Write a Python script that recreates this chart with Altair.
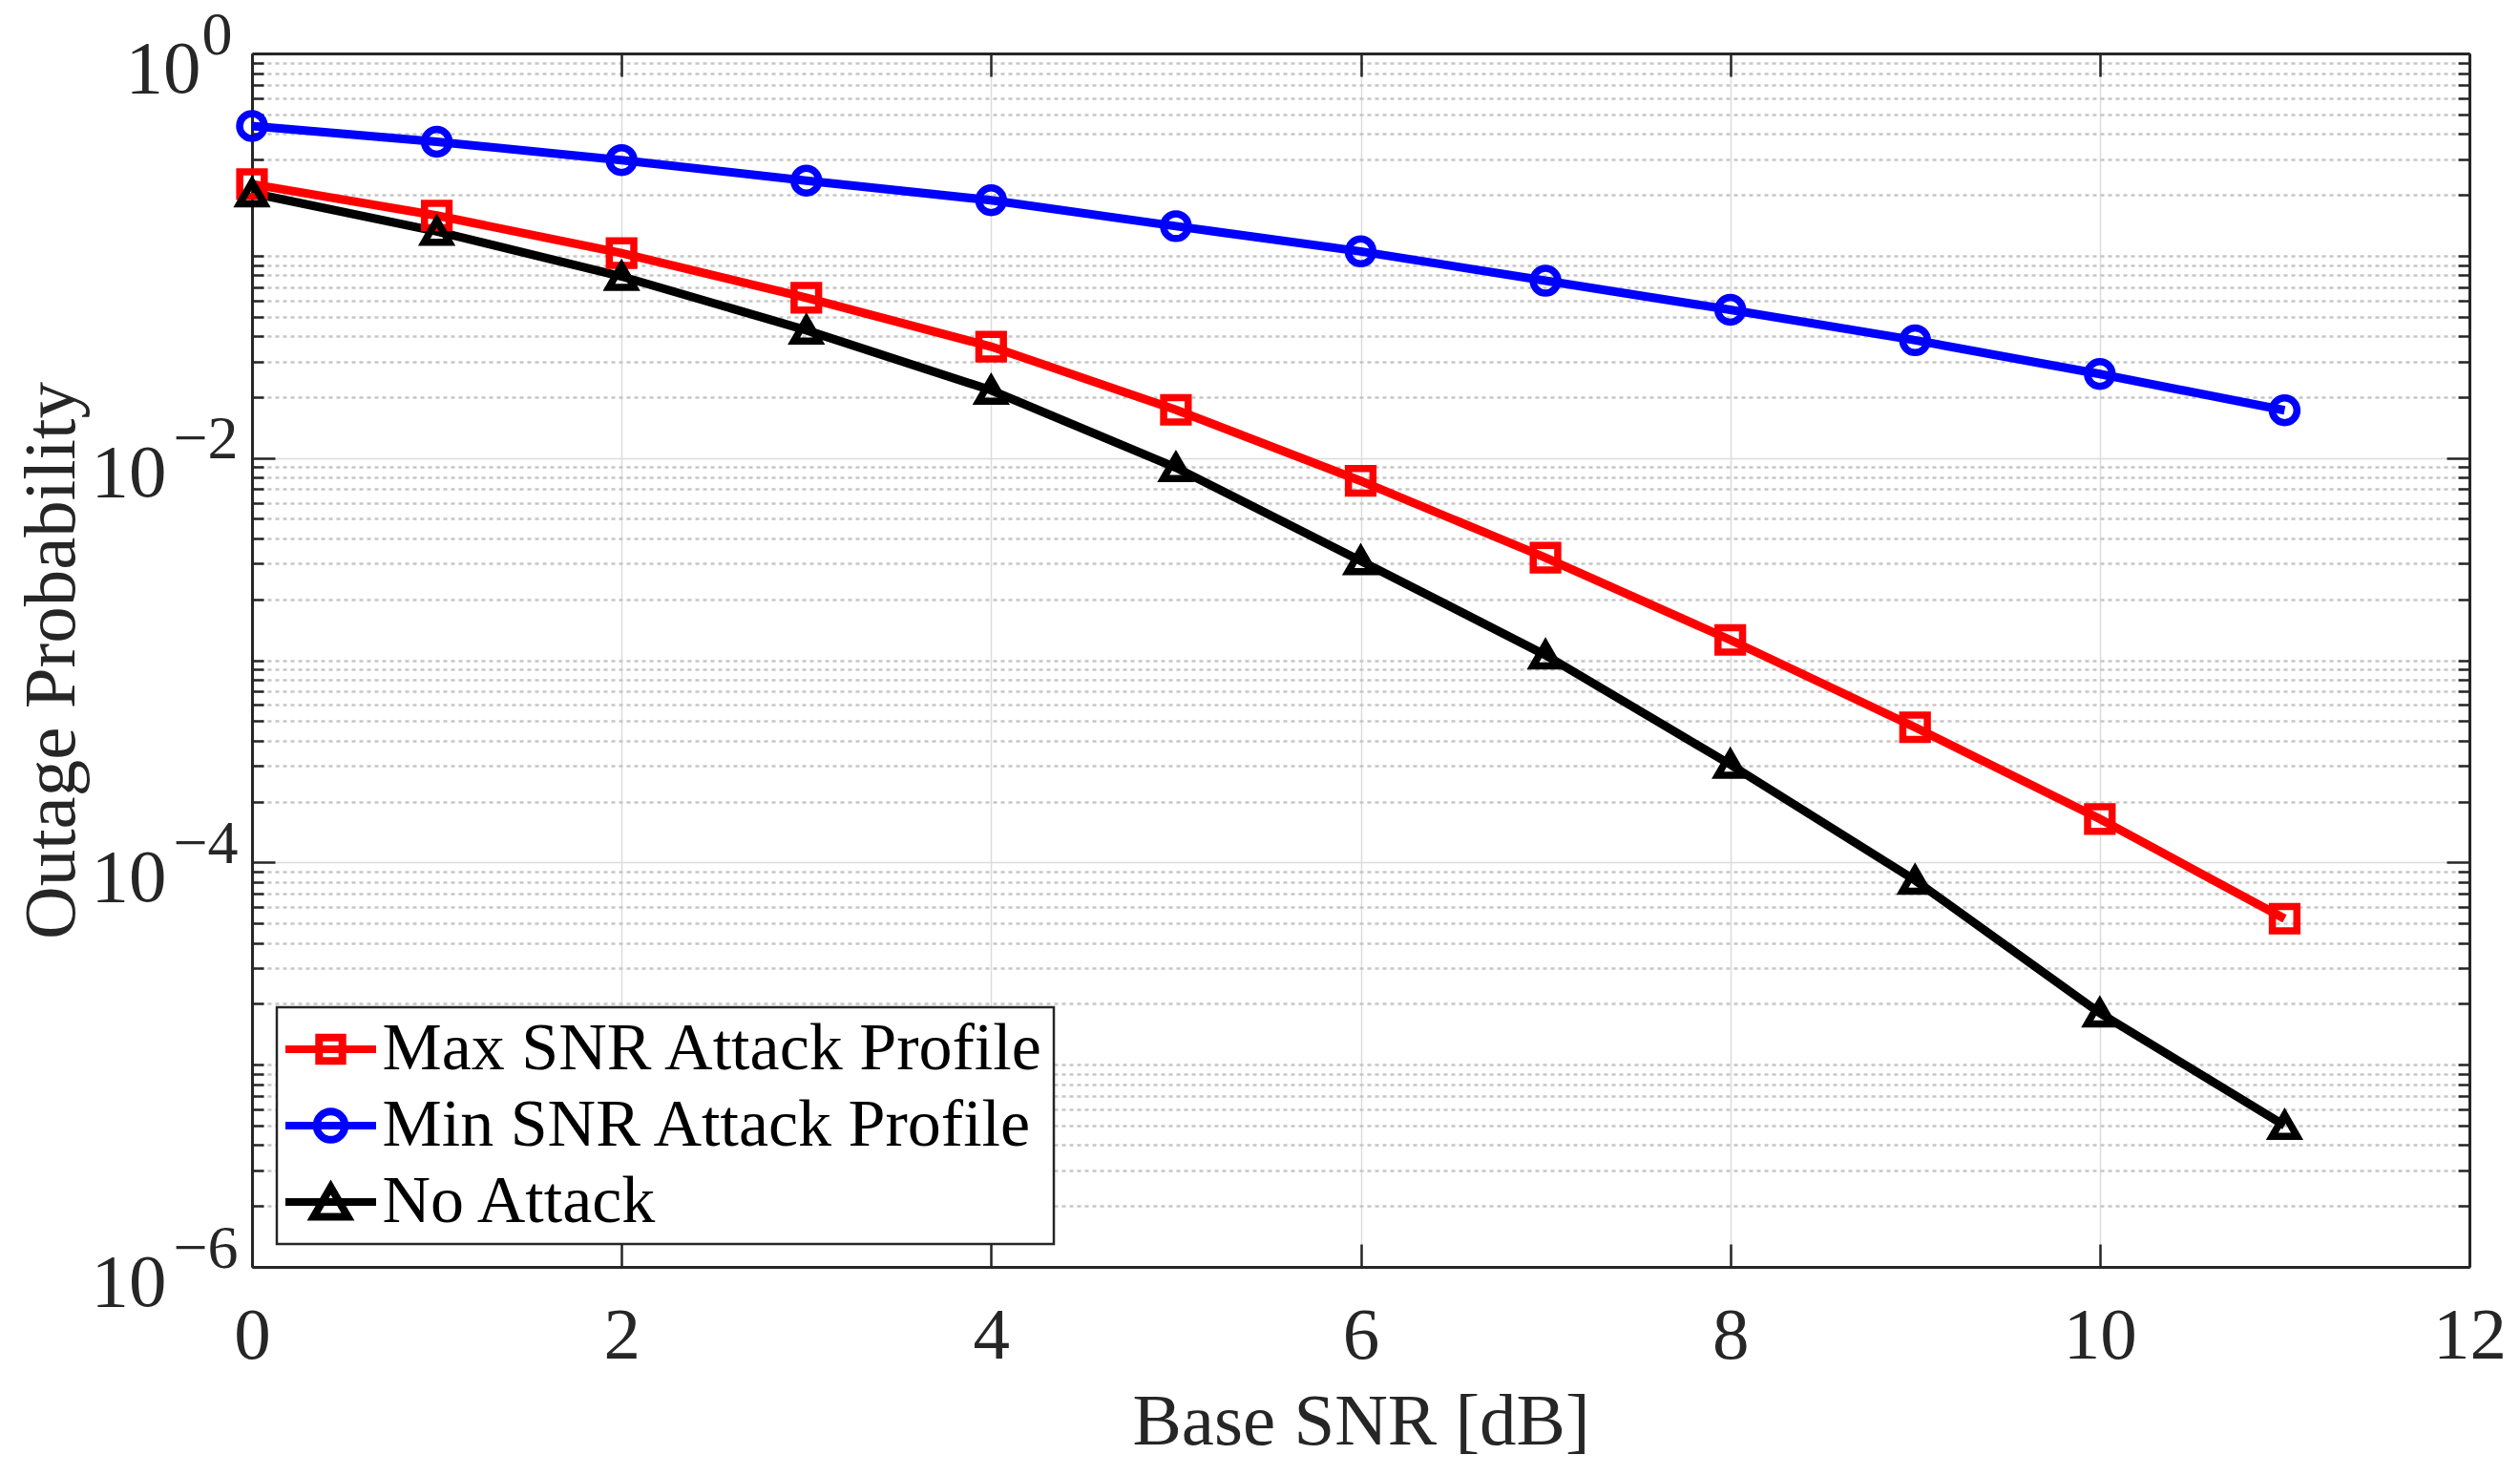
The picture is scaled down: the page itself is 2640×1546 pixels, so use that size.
import altair as alt
import pandas as pd

# ---------------- data ----------------
snr_db = [0, 1, 2, 3, 4, 5, 6, 7, 8, 9, 10, 11]
max_snr_attack = [0.226, 0.158, 0.103, 0.062, 0.0355, 0.0173, 0.0077, 0.00321,
                  0.00126, 0.000466, 0.000164, 5.27e-5]
min_snr_attack = [0.438, 0.366, 0.297, 0.235, 0.188, 0.140, 0.105, 0.0752,
                  0.054, 0.0382, 0.026, 0.0172]
no_attack = [0.204, 0.132, 0.079, 0.0428, 0.0216, 0.00896, 0.0031, 0.00106,
             0.000305, 8.16e-5, 1.80e-5, 5.0e-6]

series_names = ["Max SNR Attack Profile", "Min SNR Attack Profile", "No Attack"]
series_colors = ["#ff0000", "#0000ff", "#000000"]

x_ticks = [0, 2, 4, 6, 8, 10, 12]
decade_ticks = [1, 1e-2, 1e-4, 1e-6]
decade_base = "10"
decade_exponents = ["0", "\u22122", "\u22124", "\u22126"]
minor_multipliers = [1, 2, 3, 4, 5, 6, 7, 8, 9]
minor_exponents = [-1, -2, -3, -4, -5, -6]

# ---------------- table ----------------
rows = []
for name, vals in zip(series_names, [max_snr_attack, min_snr_attack, no_attack]):
    for s, v in zip(snr_db, vals):
        rows.append({"snr": s, "p": v, "series": name})
df = pd.DataFrame(rows)

y_all_ticks = sorted(set(decade_ticks) | {k * 10.0 ** e for e in minor_exponents for k in minor_multipliers})

major_list = "[" + ",".join(repr(float(v)) for v in decade_ticks) + "]"
major_test = f"indexof({major_list}, datum.value) >= 0"
y_bound_test = "datum.value >= 1 || datum.value <= 0.000001"
x_bound_test = f"datum.value <= {x_ticks[0]} || datum.value >= {x_ticks[-1]}"

base_label_expr = f"{major_test} ? '{decade_base}' : ''"
exp_label_expr = " : ".join(
    f"datum.value == {repr(float(v))} ? '{e}'" for v, e in zip(decade_ticks, decade_exponents)
) + " : ''"

FONT = "Liberation Serif"
AX = "#262626"
W, H = 2323, 1271

xscale = alt.Scale(domain=[0, 12], nice=False, zero=False)
yscale = alt.Scale(type="log", domain=[1e-6, 1], nice=False)
color_scale = alt.Scale(domain=series_names, range=series_colors)

x_bottom_axis = alt.Axis(
    orient="bottom", values=x_ticks, format="d",
    labelFontSize=77, labelBaseline="alphabetic", labelPadding=119,
    labelFlush=False, labelOverlap=False,
    tickSize={"expr": "-24"}, tickWidth=2.5, tickColor=AX,
    domain=True, domainColor=AX, domainWidth=3,
    grid=True, gridColor="#dcdcdc", gridWidth=1.5,
    gridOpacity={"condition": {"test": x_bound_test, "value": 0}, "value": 1},
    title="Base SNR [dB]", titleFontSize=77, titleX=W / 2, titleY=185,
    titleBaseline="alphabetic", titleAlign="center",
)

y_left_axis = alt.Axis(
    orient="left", values=y_all_ticks, labelExpr=base_label_expr,
    labelFontSize=79, labelAlign="right", labelBaseline="middle", labelOffset=16,
    labelPadding={"condition": {"test": "datum.value >= 1", "value": 78}, "value": 114},
    labelFlush=False, labelOverlap=False, labelBound=False,
    tickSize={"condition": {"test": major_test, "value": -24}, "value": -12},
    tickWidth=2.5, tickColor=AX,
    domain=True, domainColor=AX, domainWidth=3,
    grid=True,
    gridColor={"condition": {"test": major_test, "value": "#dcdcdc"}, "value": "#c6c6c6"},
    gridDash={"condition": {"test": major_test, "value": []}, "value": [4, 4]},
    gridWidth={"condition": {"test": major_test, "value": 1.5}, "value": 2.5},
    gridOpacity={"condition": {"test": y_bound_test, "value": 0}, "value": 1},
    title="Outage Probability", titleFontSize=77, titleAngle=270,
    titleX=-210, titleY=H / 2, titleAlign="center", titleBaseline="middle",
)

y_exp_axis = alt.Axis(
    orient="left", values=decade_ticks, labelExpr=exp_label_expr,
    labelFontSize=64, labelAlign="left", labelBaseline="middle", labelOffset=-19,
    labelPadding={"condition": {"test": "datum.value >= 1", "value": 53}, "value": 83},
    labelFlush=False, labelOverlap=False, labelBound=False,
    ticks=False, tickSize=0, domain=False, grid=False, title=None,
)

x_top_axis = alt.Axis(
    orient="top", values=x_ticks, labels=False,
    tickSize={"expr": "-24"}, tickWidth=2.5, tickColor=AX,
    domain=True, domainColor=AX, domainWidth=3, grid=False, title=None,
)

y_right_axis = alt.Axis(
    orient="right", values=y_all_ticks, labels=False,
    tickSize={"condition": {"test": major_test, "value": -24}, "value": -12},
    tickWidth=2.5, tickColor=AX,
    domain=True, domainColor=AX, domainWidth=3, grid=False, title=None,
)

# legend symbols: line segment + marker (one unit = 20 px, symbolSize 40^2)
legend_paths = [
    "M-2.375,0H2.375M-0.61,-0.61H0.61V0.61H-0.61Z",
    "M-2.375,0H2.375M-0.74,0A0.74,0.74 0 1,0 0.74,0A0.74,0.74 0 1,0 -0.74,0Z",
    "M-2.375,0H2.375M0,-0.78L0.9,0.78L-0.9,0.78Z",
]

legend_def = alt.Legend(
    title=None, orient="none", legendX=26, legendY=999,
    symbolSize=1600, symbolStrokeWidth=8, symbolOpacity=1,
    symbolFillColor="transparent", symbolOffset=12.5,
    labelOffset=19, labelFontSize=70, labelFont=FONT, labelColor="#000000",
    labelLimit=2000, padding=9, rowPadding=10,
    strokeColor=AX, fillColor="#ffffff",
)

base = alt.Chart(df)

lines = base.mark_line(strokeWidth=9).encode(
    x=alt.X("snr:Q", scale=xscale, axis=x_bottom_axis),
    y=alt.Y("p:Q", scale=yscale, axis=y_left_axis),
    color=alt.Color("series:N", scale=color_scale, legend=None),
)

points = base.mark_point(filled=False, strokeWidth=7.5, opacity=1).encode(
    x=alt.X("snr:Q", scale=xscale, axis=x_top_axis),
    y=alt.Y("p:Q", scale=yscale, axis=y_right_axis),
    color=alt.Color("series:N", scale=color_scale, legend=None),
    shape=alt.Shape("series:N", scale=alt.Scale(domain=series_names,
                                                range=["square", "circle", "triangle-up"]), legend=None),
    size=alt.Size("series:O", scale=alt.Scale(domain=series_names, range=[660, 690, 1300]), legend=None),
)

legend_layer = base.mark_point(filled=False, opacity=0).encode(
    x=alt.X("snr:Q", scale=xscale, axis=None),
    y=alt.Y("p:Q", scale=yscale, axis=y_exp_axis),
    color=alt.Color("series:N", scale=color_scale, legend=legend_def),
    shape=alt.Shape("series:N", scale=alt.Scale(domain=series_names, range=legend_paths), legend=legend_def),
)

chart = alt.layer(lines, points, legend_layer).resolve_scale(
    color="independent", shape="independent"
).resolve_axis(
    x="independent", y="independent"
).properties(
    width=W, height=H,
    autosize=alt.AutoSizeParams(type="none"),
    padding={"left": 256, "top": 48, "right": 45, "bottom": 211},
    background="#ffffff",
).configure_axis(
    labelFont=FONT, titleFont=FONT, labelColor=AX, titleColor=AX, titleFontWeight="normal",
).configure_legend(
    strokeWidth=2.5,
).configure_view(
    stroke=None,
)

chart.save("out.html", embed_options={"renderer": "svg", "actions": False})
